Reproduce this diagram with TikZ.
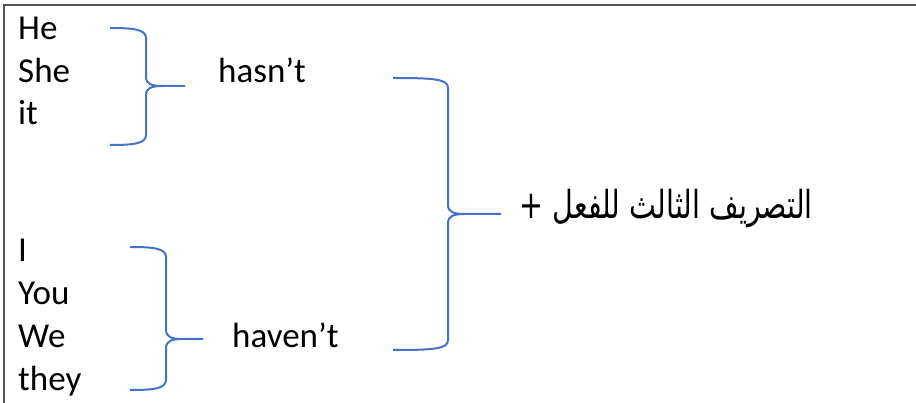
\documentclass[tikz,border=0pt]{standalone}
\usepackage{fontspec}
\setmainfont{Carlito}
\newfontfamily\arabicfont[Script=Arabic]{DejaVu Sans}
\TeXXeTstate=1
\usepackage{xcolor}
\usepackage{graphicx}
\usetikzlibrary{positioning}

\definecolor{braceblue}{HTML}{4472C4}
\definecolor{framegray}{HTML}{555555}

% one curly bracket: end x, spine x, top y, tip y, bottom y, tip x
\newcommand{\curlyjoin}[6]{%
  \draw[curly] (#1,#3) .. controls (#2-14,#3) and (#2,#3+1) .. (#2,#3+10)
    -- (#2,#4-9) .. controls (#2,#4-2) and (#2+6,#4) .. (#2+16,#4) -- (#6,#4);
  \draw[curly] (#1,#5) .. controls (#2-14,#5) and (#2,#5-1) .. (#2,#5-10)
    -- (#2,#4+9) .. controls (#2,#4+2) and (#2+6,#4) .. (#2+16,#4);
}

\begin{document}
\begin{tikzpicture}[x=1pt,y=-1pt,
    word/.style={anchor=base west, inner sep=0pt, font=\fontsize{35}{42}\selectfont},
    curly/.style={draw=braceblue, line width=2pt},
    frame/.style={draw=framegray, line width=2pt}]
  \useasboundingbox (0,0) rectangle (916,403);
  \draw[frame] (4,403) -- (4,5) -- (916,5);

  % third person singular
  \node[word] (he) at (18,40) {He};
  \node[word] (she) at (18,83) {She};
  \node[word] (it) at (18,125) {it};
  \node[word] (hasnt) at (218,83) {hasn’t};

  % the others
  \node[word] (i) at (18,262) {I};
  \node[word] (you) at (18,305) {You};
  \node[word] (we) at (18,348) {We};
  \node[word] (they) at (18,390) {they};
  \node[word] (havent) at (232,348) {haven’t};

  \node[word, anchor=base east] (pp) at (813,219)
    {\scalebox{1.02}[1.38]{\arabicfont\fontsize{28}{32}\selectfont\beginR التصريف الثالث للفعل +\endR}};

  \curlyjoin{110}{146}{28}{86}{145}{185}
  \curlyjoin{130}{166}{247}{339}{390}{203}
  \curlyjoin{393}{448}{78}{214}{350}{501}
\end{tikzpicture}
\end{document}
